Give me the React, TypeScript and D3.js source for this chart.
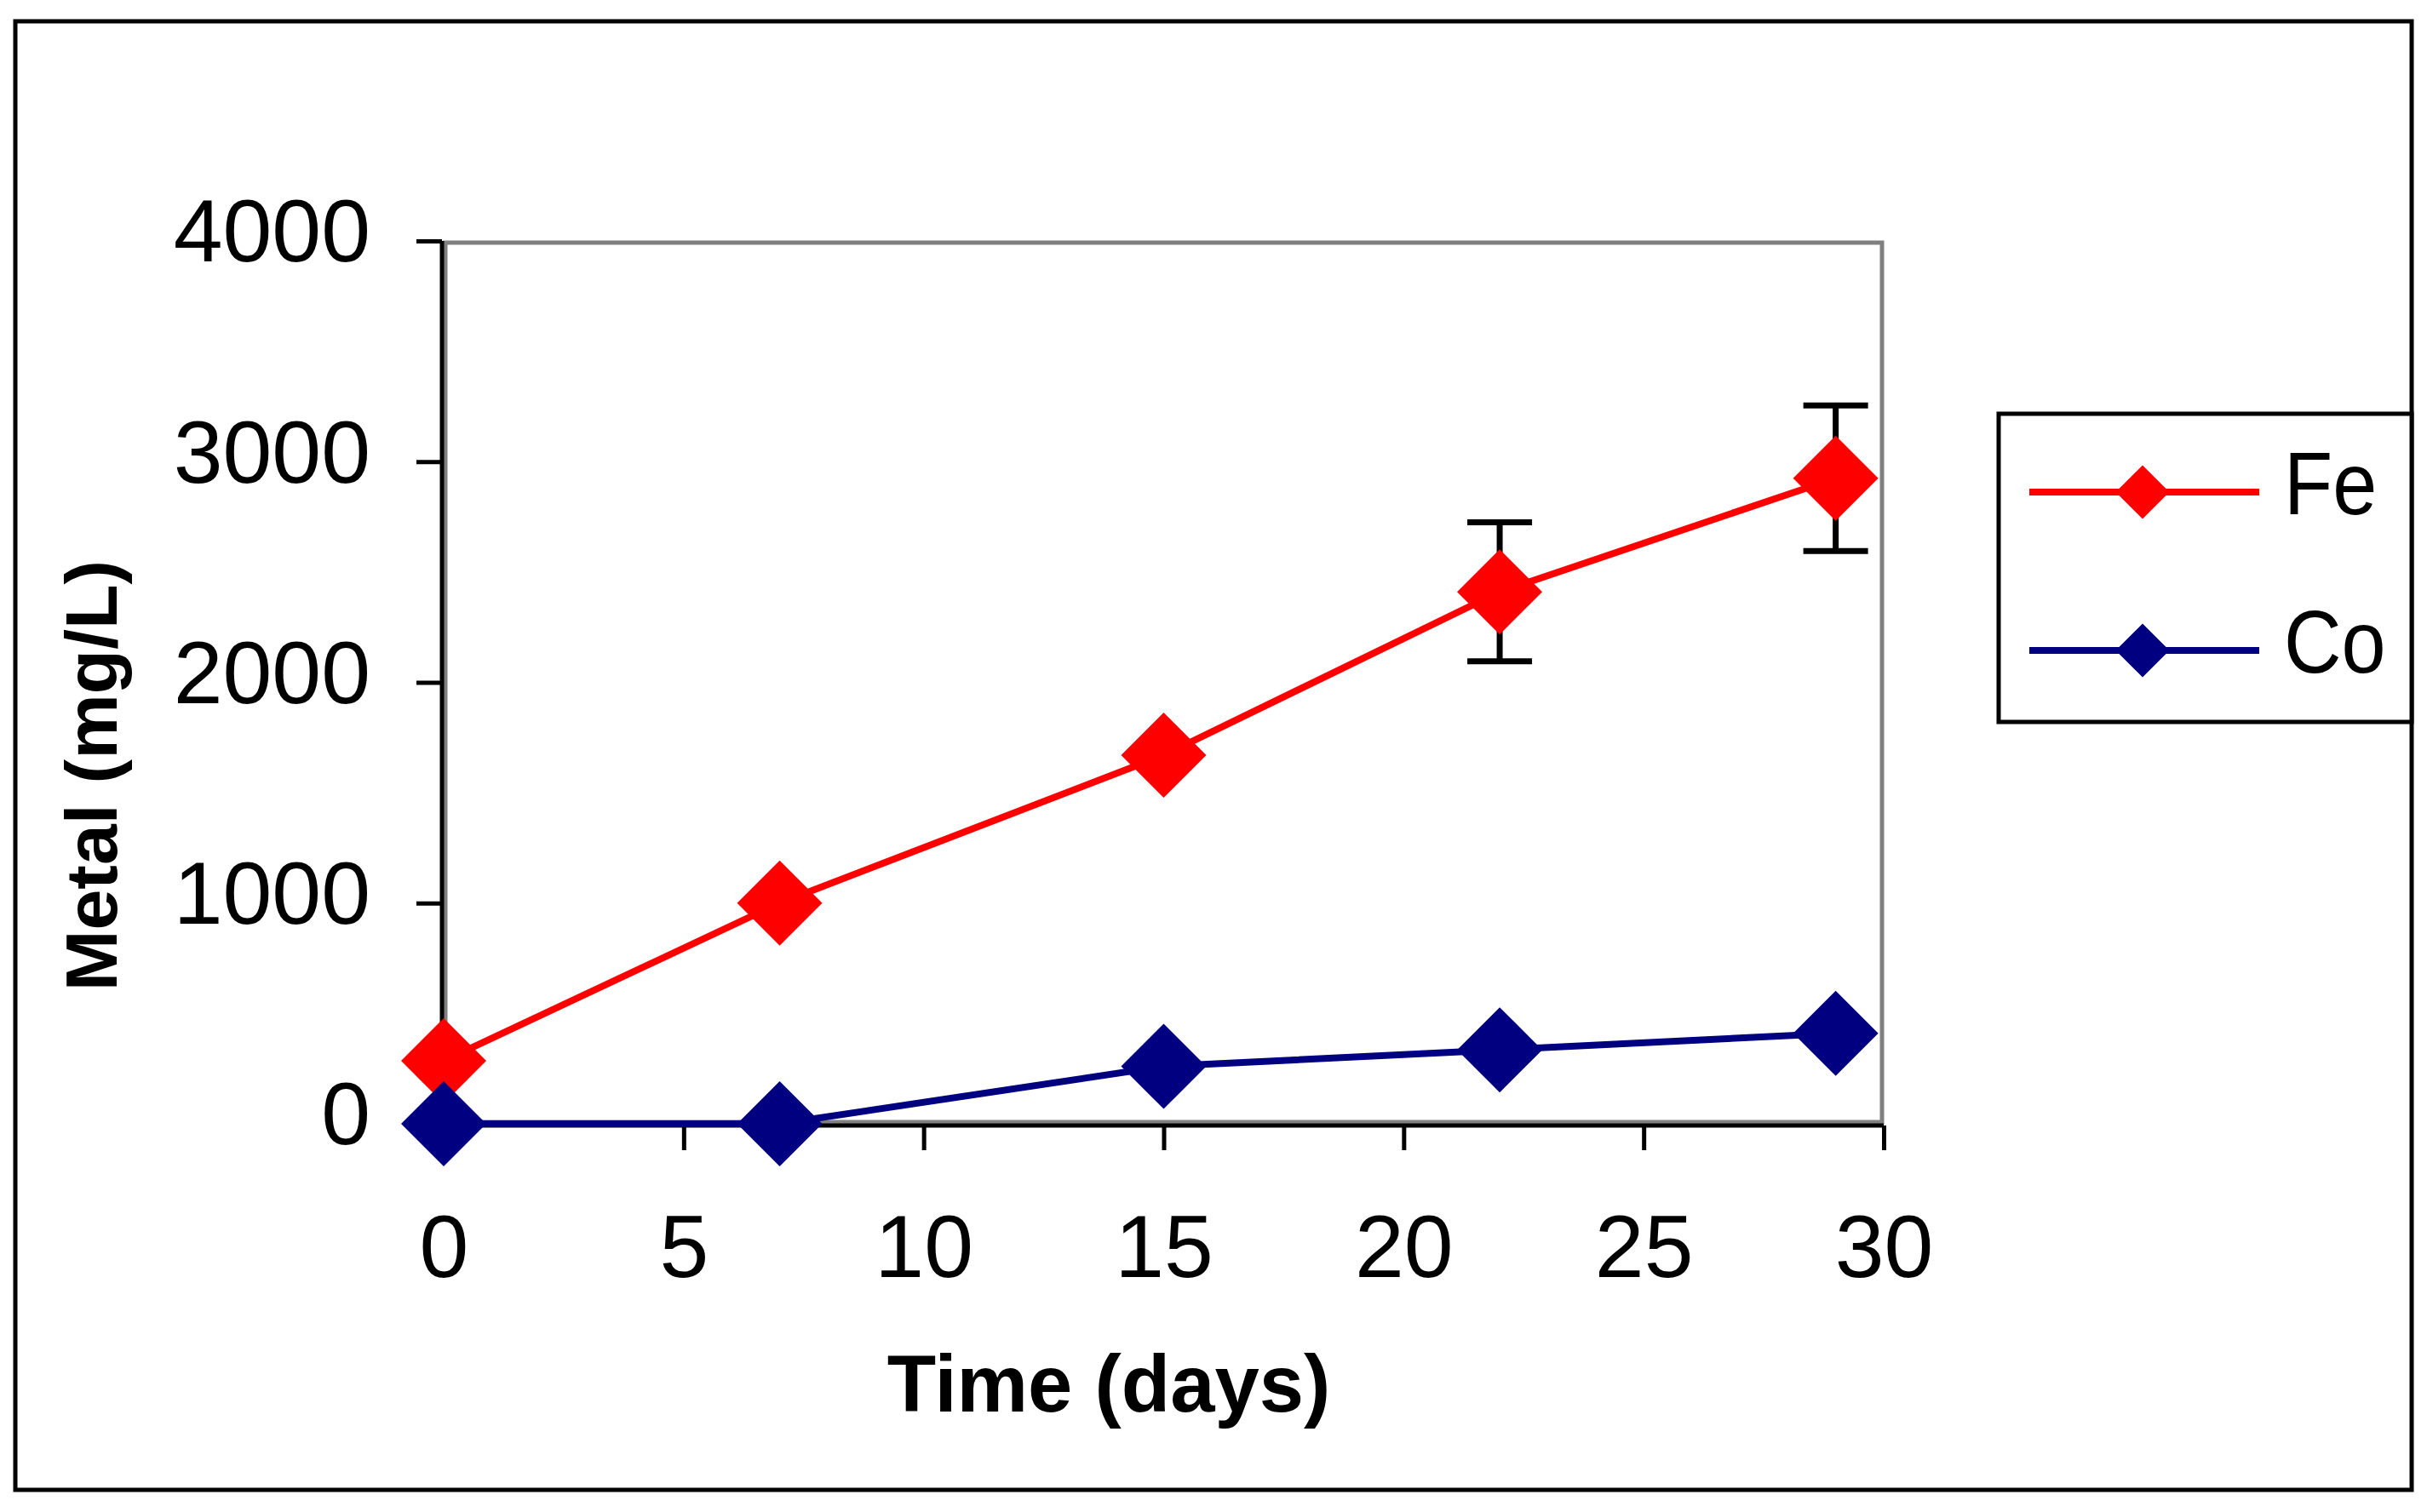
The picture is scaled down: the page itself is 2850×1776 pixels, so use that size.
import React, { useEffect, useRef } from "react";
import * as d3 from "d3";

const days = [0, 7, 15, 22, 29];
const feValues = [285, 1000, 1670, 2410, 2925];
const feErrors = [0, 0, 0, 315, 330];
const coValues = [0, 0, 260, 335, 410];
const xTicks = [0, 5, 10, 15, 20, 25, 30];
const yTicks = [0, 1000, 2000, 3000, 4000];
const seriesNames = ["Fe", "Co"];
const seriesColors = ["#ff0000", "#000080"];

export default function App() {
  const ref = useRef<SVGSVGElement | null>(null);

  useEffect(() => {
    if (!ref.current) return;
    const svg = d3.select(ref.current);
    svg.selectAll("*").remove();

    const font = "'Liberation Sans', Arial, sans-serif";
    const x = d3.scaleLinear([0, 30], [521, 2212]);
    const y = d3.scaleLinear([0, 4000], [1320, 283]);

    svg.append("rect").attr("width", 2850).attr("height", 1776).attr("fill", "#fff");

    // outer frame
    svg
      .append("rect")
      .attr("x", 18)
      .attr("y", 25)
      .attr("width", 2814)
      .attr("height", 1725)
      .attr("fill", "none")
      .attr("stroke", "#000")
      .attr("stroke-width", 5);

    // plot area border
    svg
      .append("rect")
      .attr("x", x(0) + 2)
      .attr("y", y(4000) + 2)
      .attr("width", x(30) - x(0) - 4)
      .attr("height", y(0) - y(4000) - 4)
      .attr("fill", "none")
      .attr("stroke", "#808080")
      .attr("stroke-width", 5);

    // axes
    const yAxis = d3
      .axisLeft(y)
      .tickValues(yTicks)
      .tickSize(30)
      .tickPadding(54)
      .tickFormat(d3.format("d"));
    const gy = svg.append("g").attr("transform", "translate(519,0)").call(yAxis);

    const xAxis = d3
      .axisBottom(x)
      .tickValues(xTicks)
      .tickSize(29)
      .tickPadding(75)
      .tickFormat(d3.format("d"));
    const gx = svg.append("g").attr("transform", "translate(0,1322)").call(xAxis);

    [gy, gx].forEach((g) => {
      g.select(".domain").attr("stroke", "#000").attr("stroke-width", 5);
      g.selectAll(".tick line").attr("stroke", "#000").attr("stroke-width", 5);
      g.selectAll(".tick text")
        .attr("fill", "#000")
        .style("font-family", font)
        .style("font-size", "104px");
    });
    gy.select(".domain").attr("d", `M0,${y(4000)}V${y(0) + 2}`);
    gx.select(".domain").attr("d", `M${x(0) - 4},0H${x(30)}`);
    gy.selectAll(".tick text").attr("dy", "0.23em");

    // axis titles
    svg
      .append("text")
      .attr("x", 1302)
      .attr("y", 1658)
      .attr("text-anchor", "middle")
      .style("font-family", font)
      .style("font-weight", "bold")
      .style("font-size", "94px")
      .text("Time (days)");

    svg
      .append("text")
      .attr("transform", "translate(137,911) rotate(-90)")
      .attr("text-anchor", "middle")
      .style("font-family", font)
      .style("font-weight", "bold")
      .style("font-size", "86px")
      .text("Metal (mg/L)");

    const diamond = d3.symbol(d3.symbolSquare, 5000)();
    const smallDiamond = d3.symbol(d3.symbolSquare, 2000)();
    const line = d3
      .line<number>()
      .x((_, i) => x(days[i]))
      .y((d) => y(d));

    // error bars (Fe)
    const err = svg.append("g").attr("stroke", "#000").attr("stroke-width", 7);
    feValues.forEach((v, i) => {
      const e = feErrors[i];
      if (!e) return;
      const cx = x(days[i]);
      err.append("line").attr("x1", cx).attr("x2", cx).attr("y1", y(v + e)).attr("y2", y(v - e));
      err.append("line").attr("x1", cx - 38).attr("x2", cx + 38).attr("y1", y(v + e)).attr("y2", y(v + e));
      err.append("line").attr("x1", cx - 38).attr("x2", cx + 38).attr("y1", y(v - e)).attr("y2", y(v - e));
    });

    [feValues, coValues].forEach((vals, s) => {
      const g = svg.append("g");
      g.append("path")
        .attr("d", line(vals))
        .attr("fill", "none")
        .attr("stroke", seriesColors[s])
        .attr("stroke-width", 8);
      g.selectAll("path.m")
        .data(vals)
        .enter()
        .append("path")
        .attr("class", "m")
        .attr("d", diamond)
        .attr("fill", seriesColors[s])
        .attr("transform", (d, i) => `translate(${x(days[i])},${y(d)}) rotate(45)`);
    });

    // legend
    svg
      .append("rect")
      .attr("x", 2347)
      .attr("y", 486)
      .attr("width", 485)
      .attr("height", 362)
      .attr("fill", "#fff")
      .attr("stroke", "#000")
      .attr("stroke-width", 5);

    const legendY = d3.scalePoint(seriesNames, [578, 764]);
    seriesNames.forEach((name, s) => {
      const ly = legendY(name) as number;
      svg
        .append("line")
        .attr("x1", 2383)
        .attr("x2", 2653)
        .attr("y1", ly)
        .attr("y2", ly)
        .attr("stroke", seriesColors[s])
        .attr("stroke-width", 8);
      svg
        .append("path")
        .attr("d", smallDiamond)
        .attr("fill", seriesColors[s])
        .attr("transform", `translate(2516,${ly}) rotate(45)`);
      svg
        .append("text")
        .attr("transform", `translate(2682,${ly + 26}) scale(0.9,1)`)
        .style("font-family", font)
        .style("font-size", "104px")
        .text(name);
    });
  }, []);

  return (
    <svg
      ref={ref}
      width={2850}
      height={1776}
      style={{ position: "absolute", left: 0, top: 0 }}
    />
  );
}
